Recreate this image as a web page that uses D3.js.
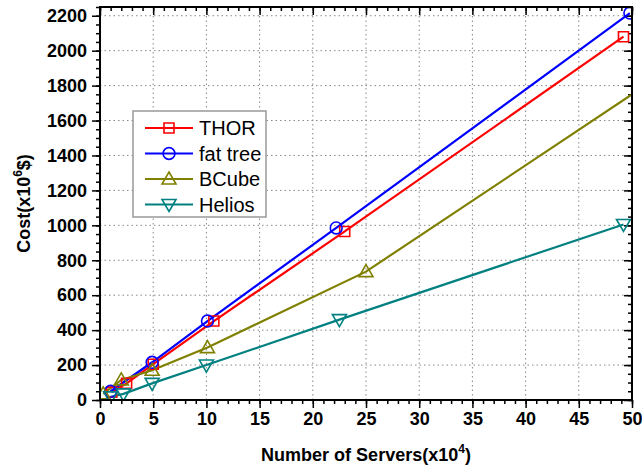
<!DOCTYPE html>
<html lang="en">
  <head>
    <meta charset="UTF-8" />
    <title>Cost vs Number of Servers</title>
    <script src="https://d3js.org/d3.v7.min.js"></script>
    <style>
      body { margin: 0; background: #fff; }
    </style>
  </head>
  <body>
    <div id="chart"></div>

    <script>
      // series data (x in 10^4 servers, y in 10^6 $)
      const thor = [[1.1, 45], [2.5, 95], [5, 205], [10.7, 452], [23, 965], [49.2, 2080]];
      const fatTree = [[1, 50], [4.9, 216], [10.1, 452], [22.2, 985], [49.8, 2215]];
      const bcube = [[0.3, 35], [2, 115], [4.9, 170], [10.1, 300], [25, 735], [51, 1790]];
      const helios = [[1, 18], [2.2, 35], [4.9, 95], [10, 200], [22.5, 460], [49.2, 1005]];

      const seriesNames = ["THOR", "fat tree", "BCube", "Helios"];
      const seriesColors = ["#ff0000", "#0000ff", "#808000", "#008080"];
      const seriesSymbols = ["square", "circle", "up", "down"];
      const seriesData = [thor, fatTree, bcube, helios];

      const xTicks = [0, 5, 10, 15, 20, 25, 30, 35, 40, 45, 50];
      const yTicks = [0, 200, 400, 600, 800, 1000, 1200, 1400, 1600, 1800, 2000, 2200];

      const W = 642, H = 467;
      const margin = { top: 7, right: 10, bottom: 67, left: 100 };
      const width = W - margin.left - margin.right,
        height = H - margin.top - margin.bottom;

      const svg = d3
        .select("#chart")
        .append("svg")
        .attr("width", W)
        .attr("height", H)
        .style("font-family", "Liberation Sans, Arial, sans-serif");

      const g = svg
        .append("g")
        .attr("transform", `translate(${margin.left},${margin.top})`);

      const x = d3.scaleLinear().domain([0, 50]).range([0, width]);
      const y = d3.scaleLinear().domain([0, 2250]).range([height, 0]);

      // grid
      g.append("g")
        .selectAll("line")
        .data(xTicks.slice(1, -1))
        .join("line")
        .attr("x1", (d) => x(d))
        .attr("x2", (d) => x(d))
        .attr("y1", 0)
        .attr("y2", height)
        .attr("stroke", "#888")
        .attr("stroke-dasharray", "1.5,3");
      g.append("g")
        .selectAll("line")
        .data(yTicks.slice(1))
        .join("line")
        .attr("x1", 0)
        .attr("x2", width)
        .attr("y1", (d) => y(d))
        .attr("y2", (d) => y(d))
        .attr("stroke", "#888")
        .attr("stroke-dasharray", "1.5,3");

      // axes
      const xMinor = d3.range(0, 51, 1);
      const yMinor = d3.range(0, 2251, 50);

      const axisStyle = (sel) => {
        sel.select(".domain").remove();
        sel.selectAll("line").attr("stroke", "#000").attr("stroke-width", 1.5);
      };

      g.append("g")
        .attr("transform", `translate(0,${height})`)
        .call(d3.axisBottom(x).tickValues(xMinor).tickSize(4).tickFormat(""))
        .call(axisStyle);
      g.append("g")
        .attr("transform", `translate(0,${height})`)
        .call(d3.axisBottom(x).tickValues(xTicks).tickSize(8).tickPadding(4).tickFormat(d3.format("d")))
        .call(axisStyle)
        .selectAll("text")
        .attr("font-size", 18)
        .attr("font-weight", "bold")
        .attr("fill", "#000");

      g.append("g")
        .call(d3.axisLeft(y).tickValues(yMinor).tickSize(4).tickFormat(""))
        .call(axisStyle);
      g.append("g")
        .call(d3.axisLeft(y).tickValues(yTicks).tickSize(8).tickPadding(5).tickFormat(d3.format("d")))
        .call(axisStyle)
        .selectAll("text")
        .attr("font-size", 18)
        .attr("font-weight", "bold")
        .attr("fill", "#000");

      // top and right ticks (inward)
      g.append("g")
        .call(d3.axisBottom(x).tickValues(xMinor).tickSize(4).tickFormat(""))
        .call(axisStyle);
      g.append("g")
        .call(d3.axisBottom(x).tickValues(xTicks).tickSize(8).tickFormat(""))
        .call(axisStyle);
      g.append("g")
        .attr("transform", `translate(${width},0)`)
        .call(d3.axisLeft(y).tickValues(yMinor).tickSize(4).tickFormat(""))
        .call(axisStyle);
      g.append("g")
        .attr("transform", `translate(${width},0)`)
        .call(d3.axisLeft(y).tickValues(yTicks).tickSize(8).tickFormat(""))
        .call(axisStyle);

      // clip
      svg.append("defs")
        .append("clipPath")
        .attr("id", "plot-clip")
        .append("rect")
        .attr("width", width)
        .attr("height", height);

      const symbolPath = (kind) => {
        if (kind === "square") return "M-5,-5H5V5H-5Z";
        if (kind === "circle") return d3.symbol(d3.symbolCircle, 110)();
        if (kind === "up") return "M0,-7L7,5H-7Z";
        return "M0,7L7,-5H-7Z";
      };

      const line = d3
        .line()
        .x((d) => x(d[0]))
        .y((d) => y(d[1]));

      const plot = g.append("g").attr("clip-path", "url(#plot-clip)");

      seriesData.forEach((data, i) => {
        plot.append("path")
          .datum(data)
          .attr("fill", "none")
          .attr("stroke", seriesColors[i])
          .attr("stroke-width", 2.2)
          .attr("d", line);
      });
      seriesData.forEach((data, i) => {
        plot.append("g")
          .selectAll("path")
          .data(data)
          .join("path")
          .attr("transform", (d) => `translate(${x(d[0])},${y(d[1])})`)
          .attr("d", symbolPath(seriesSymbols[i]))
          .attr("fill", "none")
          .attr("stroke", seriesColors[i])
          .attr("stroke-width", 1.6);
      });

      // frame
      g.append("rect")
        .attr("width", width)
        .attr("height", height)
        .attr("fill", "none")
        .attr("stroke", "#000")
        .attr("stroke-width", 2);

      // axis titles
      const xt = svg
        .append("text")
        .attr("x", margin.left + width / 2)
        .attr("y", 461)
        .attr("text-anchor", "middle")
        .attr("font-size", 18)
        .attr("font-weight", "bold");
      xt.append("tspan").text("Number of Servers(x10");
      xt.append("tspan").attr("font-size", 12).attr("dy", -8).text("4");
      xt.append("tspan").attr("dy", 8).text(")");

      const yt = svg
        .append("text")
        .attr("transform", `translate(30,${margin.top + height / 2}) rotate(-90)`)
        .attr("text-anchor", "middle")
        .attr("font-size", 18)
        .attr("font-weight", "bold");
      yt.append("tspan").text("Cost(x10");
      yt.append("tspan").attr("font-size", 12).attr("dy", -8).text("6");
      yt.append("tspan").attr("dy", 8).text("$)");

      // legend
      const legend = svg.append("g").attr("transform", "translate(133,111)");
      legend
        .append("rect")
        .attr("width", 133)
        .attr("height", 106)
        .attr("fill", "#fff")
        .attr("stroke", "#999")
        .attr("stroke-width", 1.5);
      const items = legend
        .selectAll("g.item")
        .data(seriesNames)
        .join("g")
        .attr("class", "item")
        .attr("transform", (d, i) => `translate(0,${17 + i * 25.5})`);
      items
        .append("line")
        .attr("x1", 12)
        .attr("x2", 60)
        .attr("stroke", (d, i) => seriesColors[i])
        .attr("stroke-width", 2.2);
      items
        .append("path")
        .attr("transform", "translate(36,0)")
        .attr("d", (d, i) => symbolPath(seriesSymbols[i]))
        .attr("fill", "none")
        .attr("stroke", (d, i) => seriesColors[i])
        .attr("stroke-width", 1.6);
      items
        .append("text")
        .attr("x", 66)
        .attr("dy", "0.36em")
        .attr("font-size", 20)
        .text((d) => d);
    </script>
  </body>
</html>
